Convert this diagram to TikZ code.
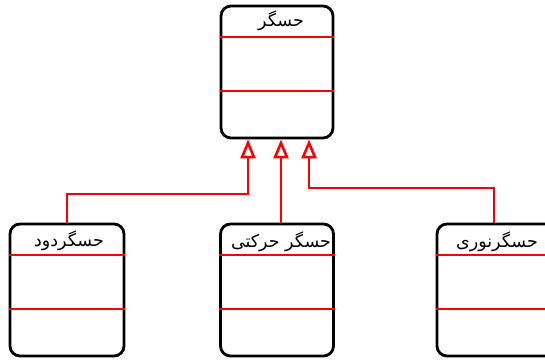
\documentclass[tikz,border=0pt]{standalone}
\usepackage{fontspec}
\newfontfamily\arabicfont[Script=Arabic]{DejaVu Sans}
\TeXXeTstate=1
\usetikzlibrary{arrows.meta,calc}
\begin{document}
\begin{tikzpicture}[x=1pt,y=-1pt,
  classbox/.style={draw=black,line width=2.8pt,rounded corners=10pt,minimum height=132pt,inner sep=0pt},
  sep/.style={draw=red,line width=2.6pt},
  title/.style={font=\arabicfont\fontsize{17.5}{20}\selectfont,inner sep=0pt},
  inherit/.style={draw=red,line width=2.6pt,-{Triangle[open,length=19pt,width=15pt,line width=2.6pt]}}]
\useasboundingbox (0,0) rectangle (545,359);
\clip (0,0) rectangle (545,359);
\node[classbox,minimum width=112pt] (top) at (277,72) {};
\node[classbox,minimum width=114pt] (left) at (67,290) {};
\node[classbox,minimum width=113pt] (mid) at (277,290) {};
\node[classbox,minimum width=118pt] (right) at (496,290) {};
\foreach \b in {top,left,mid,right}{
  \draw[sep] ($(\b.north west)+(0,32.5)$) -- ($(\b.north east)+(0,32.5)$);
  \draw[sep] ($(\b.north west)+(0,86.5)$) -- ($(\b.north east)+(0,86.5)$);
}
\node[title] (ttop) at (281,21) {\beginR حسگر\endR};
\node[title] (tleft) at (69,241) {\beginR حسگردود\endR};
\node[title] (tmid) at (281,242) {\beginR حسگر حرکتی\endR};
\node[title] (tright) at (497,242) {\beginR حسگرنوری\endR};
\coordinate (aL) at ($(top.south)+(-29,0)$);
\coordinate (aM) at ($(top.south)+(4,0)$);
\coordinate (aR) at ($(top.south)+(32,0)$);
\coordinate (mL) at (67,194);
\coordinate (mR) at (494,188);
\draw[inherit] (left.north) -- (mL) -| (aL);
\draw[inherit] (mid.north -| aM) -- (aM);
\draw[inherit] (right.north -| mR) -- (mR) -| (aR);
\end{tikzpicture}
\end{document}
